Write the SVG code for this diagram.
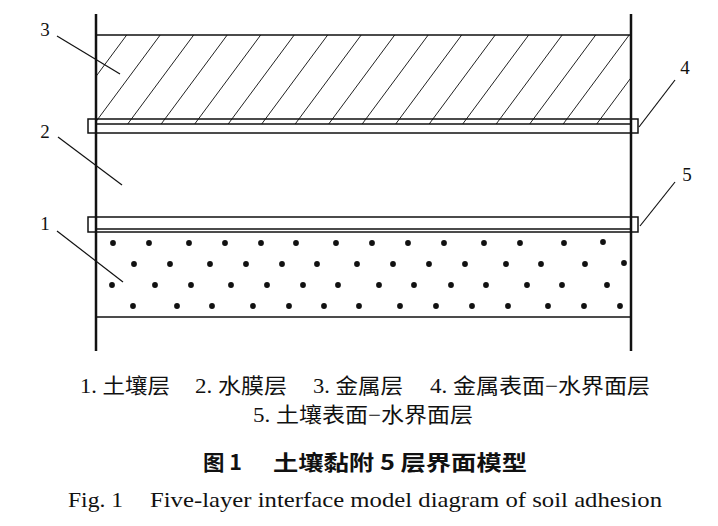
<svg xmlns="http://www.w3.org/2000/svg" width="718" height="526" viewBox="0 0 718 526">
<style>
.ln{stroke:#111;stroke-width:1.5;fill:none}
.wall{stroke:#111;stroke-width:2.5;fill:none}
.hat{stroke:#222;stroke-width:1}
.lead{stroke:#111;stroke-width:1.2}
.num{font-family:"Liberation Serif","Times New Roman",serif;font-size:19px;fill:#111}
.cap{font-family:"Liberation Serif","Noto Sans CJK SC",serif;font-size:21px;fill:#111}
.capb{font-family:"Noto Sans CJK SC","Liberation Sans",sans-serif;font-size:21px;font-weight:bold;fill:#111}
.en{font-family:"Liberation Serif","Times New Roman",serif;font-size:22px;fill:#111}
</style>
<defs>
<clipPath id="mclip"><rect x="96" y="35" width="535" height="89"/></clipPath>
</defs>
<rect width="718" height="526" fill="#fff"/>
<g id="layer3-metal">
<g clip-path="url(#mclip)">
<g class="hat">
<line x1="126.7" y1="35" x2="60.7" y2="124"/>
<line x1="160.2" y1="35" x2="94.2" y2="124"/>
<line x1="193.7" y1="35" x2="127.7" y2="124"/>
<line x1="227.2" y1="35" x2="161.2" y2="124"/>
<line x1="260.7" y1="35" x2="194.7" y2="124"/>
<line x1="294.2" y1="35" x2="228.2" y2="124"/>
<line x1="327.7" y1="35" x2="261.7" y2="124"/>
<line x1="361.2" y1="35" x2="295.2" y2="124"/>
<line x1="394.7" y1="35" x2="328.7" y2="124"/>
<line x1="428.2" y1="35" x2="362.2" y2="124"/>
<line x1="461.7" y1="35" x2="395.7" y2="124"/>
<line x1="495.2" y1="35" x2="429.2" y2="124"/>
<line x1="528.7" y1="35" x2="462.7" y2="124"/>
<line x1="562.2" y1="35" x2="496.2" y2="124"/>
<line x1="595.7" y1="35" x2="529.7" y2="124"/>
<line x1="629.2" y1="35" x2="563.2" y2="124"/>
<line x1="662.7" y1="35" x2="596.7" y2="124"/>
<line x1="696.2" y1="35" x2="630.2" y2="124"/>
</g>
</g>
<rect class="ln" x="96" y="35" width="535" height="89"/>
</g>
<g id="layer4-interface">
<rect class="ln" x="88" y="119" width="550" height="14"/>
</g>
<g id="layer2-water"></g>
<g id="layer5-interface">
<rect class="ln" x="88" y="217" width="550" height="15"/>
</g>
<g id="layer1-soil">
<rect class="ln" x="96" y="229" width="535" height="88"/>
<g fill="#111">
<circle cx="113" cy="243" r="2.9"/><circle cx="149" cy="243" r="2.9"/><circle cx="189" cy="243" r="2.9"/><circle cx="225" cy="243" r="2.9"/><circle cx="261" cy="243" r="2.9"/><circle cx="296" cy="243" r="2.9"/><circle cx="336" cy="243" r="2.9"/><circle cx="372" cy="243" r="2.9"/><circle cx="408" cy="243" r="2.9"/><circle cx="444" cy="243" r="2.9"/><circle cx="484" cy="243" r="2.9"/><circle cx="520" cy="243" r="2.9"/><circle cx="564" cy="243" r="2.9"/><circle cx="603" cy="242" r="2.9"/>
<circle cx="134" cy="264" r="2.9"/><circle cx="170" cy="264" r="2.9"/><circle cx="210" cy="264" r="2.9"/><circle cx="246" cy="264" r="2.9"/><circle cx="282" cy="264" r="2.9"/><circle cx="317" cy="264" r="2.9"/><circle cx="357" cy="264" r="2.9"/><circle cx="393" cy="264" r="2.9"/><circle cx="429" cy="264" r="2.9"/><circle cx="465" cy="264" r="2.9"/><circle cx="506" cy="264" r="2.9"/><circle cx="541" cy="264" r="2.9"/><circle cx="585" cy="264" r="2.9"/><circle cx="624" cy="263" r="2.9"/>
<circle cx="112" cy="285" r="2.9"/><circle cx="155" cy="285" r="2.9"/><circle cx="191" cy="285" r="2.9"/><circle cx="231" cy="285" r="2.9"/><circle cx="267" cy="285" r="2.9"/><circle cx="303" cy="285" r="2.9"/><circle cx="338" cy="285" r="2.9"/><circle cx="379" cy="285" r="2.9"/><circle cx="414" cy="285" r="2.9"/><circle cx="451" cy="285" r="2.9"/><circle cx="486" cy="285" r="2.9"/><circle cx="527" cy="285" r="2.9"/><circle cx="562" cy="285" r="2.9"/><circle cx="607" cy="285" r="2.9"/>
<circle cx="133" cy="306" r="2.9"/><circle cx="177" cy="306" r="2.9"/><circle cx="212" cy="306" r="2.9"/><circle cx="253" cy="306" r="2.9"/><circle cx="289" cy="306" r="2.9"/><circle cx="324" cy="306" r="2.9"/><circle cx="359" cy="306" r="2.9"/><circle cx="400" cy="306" r="2.9"/><circle cx="436" cy="306" r="2.9"/><circle cx="472" cy="306" r="2.9"/><circle cx="508" cy="306" r="2.9"/><circle cx="548" cy="306" r="2.9"/><circle cx="584" cy="306" r="2.9"/><circle cx="620" cy="306" r="2.9"/>
</g>
</g>
<g id="walls">
<line class="wall" x1="96" y1="14" x2="96" y2="351"/>
<line class="wall" x1="631" y1="14" x2="631" y2="351"/>
</g>
<g id="connectors">
<line class="lead" x1="57" y1="36" x2="120" y2="74"/>
<line class="lead" x1="58" y1="137" x2="122" y2="185"/>
<line class="lead" x1="57" y1="231" x2="123" y2="282"/>
<line class="lead" x1="675" y1="80" x2="639" y2="127"/>
<line class="lead" x1="675" y1="182" x2="640" y2="226"/>
</g>
<g id="labels">
<text class="num" x="45" y="36" text-anchor="middle">3</text>
<text class="num" x="45" y="138" text-anchor="middle">2</text>
<text class="num" x="45" y="230" text-anchor="middle">1</text>
<text class="num" x="685" y="74" text-anchor="middle">4</text>
<text class="num" x="687" y="181" text-anchor="middle">5</text>
</g>
<g id="caption">
<text class="cap" x="80" y="393" textLength="90" lengthAdjust="spacingAndGlyphs">1. 土壤层</text>
<text class="cap" x="195" y="393" textLength="92" lengthAdjust="spacingAndGlyphs">2. 水膜层</text>
<text class="cap" x="313" y="393" textLength="90" lengthAdjust="spacingAndGlyphs">3. 金属层</text>
<text class="cap" x="430" y="393" textLength="220" lengthAdjust="spacingAndGlyphs">4. 金属表面−水界面层</text>
<text class="cap" x="253" y="422" textLength="220" lengthAdjust="spacingAndGlyphs">5. 土壤表面−水界面层</text>
<text class="capb" x="203" y="470" textLength="39" lengthAdjust="spacingAndGlyphs">图 1</text>
<text class="capb" x="273" y="470" textLength="254" lengthAdjust="spacingAndGlyphs">土壤黏附 5 层界面模型</text>
<text class="en" x="68" y="507" textLength="55" lengthAdjust="spacingAndGlyphs">Fig. 1</text>
<text class="en" x="150" y="507" textLength="512" lengthAdjust="spacingAndGlyphs">Five-layer interface model diagram of soil adhesion</text>
</g>
</svg>
